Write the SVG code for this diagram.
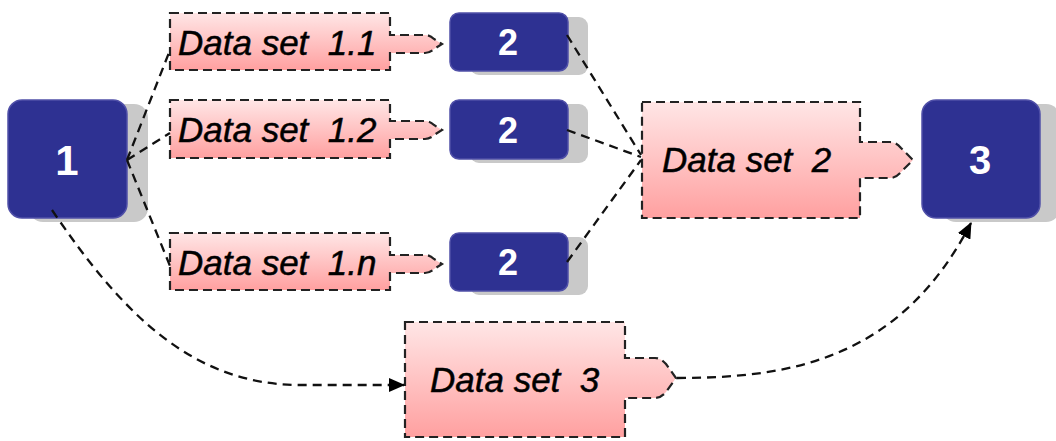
<svg xmlns="http://www.w3.org/2000/svg" width="1056" height="441" viewBox="0 0 1056 441">
<defs>
<linearGradient id="pink" x1="0" y1="0" x2="0" y2="1">
<stop offset="0" stop-color="#ffe6e6"/>
<stop offset="1" stop-color="#ffa0a0"/>
</linearGradient>
<marker id="arr" markerWidth="16" markerHeight="14" refX="15" refY="7" orient="auto" markerUnits="userSpaceOnUse">
<path d="M0,0 L16,7 L0,14 Z" fill="#000"/>
</marker>
</defs>
<style>
.sh{fill:#c9c9c9}
.bl{fill:#2e3192;stroke:#5050a8;stroke-width:1.5}
.num{font-family:"Liberation Sans",Arial,sans-serif;font-weight:bold;fill:#fff;text-anchor:middle}
.ds{fill:url(#pink);stroke:#222;stroke-width:2.2;stroke-dasharray:9 5}
.dt{font-family:"Liberation Sans",Arial,sans-serif;font-style:italic;font-size:35px;fill:#000;stroke:#000;stroke-width:0.5;white-space:pre}
.cn{fill:none;stroke:#111;stroke-width:2.3;stroke-dasharray:9 6}
</style>
<g id="node1">
<rect class="sh" x="29" y="104" width="119" height="118" rx="14"/>
<rect class="bl" x="8" y="100" width="119" height="118" rx="14"/>
<text class="num" x="67" y="175" font-size="42">1</text>
</g>
<g id="node2a">
<rect class="sh" x="470" y="17" width="118" height="58" rx="9"/>
<rect class="bl" x="450" y="13" width="118" height="58" rx="9"/>
<text class="num" x="508" y="55" font-size="36">2</text>
</g>
<g id="node2b">
<rect class="sh" x="470" y="104" width="118" height="59" rx="9"/>
<rect class="bl" x="450" y="100" width="118" height="59" rx="9"/>
<text class="num" x="508" y="143" font-size="36">2</text>
</g>
<g id="node2c">
<rect class="sh" x="470" y="237" width="118" height="58" rx="9"/>
<rect class="bl" x="450" y="233" width="118" height="58" rx="9"/>
<text class="num" x="508" y="275" font-size="36">2</text>
</g>
<g id="node3">
<rect class="sh" x="942" y="104" width="118" height="118" rx="14"/>
<rect class="bl" x="922" y="100" width="118" height="118" rx="14"/>
<text class="num" x="980" y="174" font-size="40">3</text>
</g>
<g id="ds11">
<path class="ds" d="M170,13 H390 V35 H425 Q430,35 434,39 L442,44 L434,49 Q430,53 425,53 H390 V70 H170 Z"/>
<text class="dt" x="178" y="55">Data set  1.1</text>
</g>
<g id="ds12">
<path class="ds" d="M170,100 H390 V121 H425 Q430,121 434,125 L442,130 L434,135 Q430,139 425,139 H390 V158 H170 Z"/>
<text class="dt" x="178" y="142">Data set  1.2</text>
</g>
<g id="ds1n">
<path class="ds" d="M170,233 H390 V255 H425 Q430,255 434,259 L442,264 L434,269 Q430,273 425,273 H390 V290 H170 Z"/>
<text class="dt" x="178" y="275">Data set  1.n</text>
</g>
<g id="ds2">
<path class="ds" d="M642,102 H860 V142 H890 Q896,142 901,148 L913,160 L901,172 Q896,178 890,178 H860 V218 H642 Z"/>
<text class="dt" x="662" y="172">Data set  2</text>
</g>
<g id="ds3">
<path class="ds" d="M405,322 H625 V358 H655 Q661,358 666,364 L676,378 L666,392 Q661,398 655,398 H625 V437 H405 Z"/>
<text class="dt" x="430" y="392">Data set  3</text>
</g>
<g id="connectors">
<path class="cn" d="M127,160 L170,50"/>
<path class="cn" d="M127,160 L170,133"/>
<path class="cn" d="M127,160 L170,266"/>
<path class="cn" d="M567,35 L641,155"/>
<path class="cn" d="M567,130 L641,157"/>
<path class="cn" d="M567,262 L641,160"/>
<path class="cn" d="M52,210 C120,310 190,385 300,385 L404,385" marker-end="url(#arr)"/>
<path class="cn" d="M677,378 C790,378 900,360 971,223" marker-end="url(#arr)"/>
</g>
</svg>
